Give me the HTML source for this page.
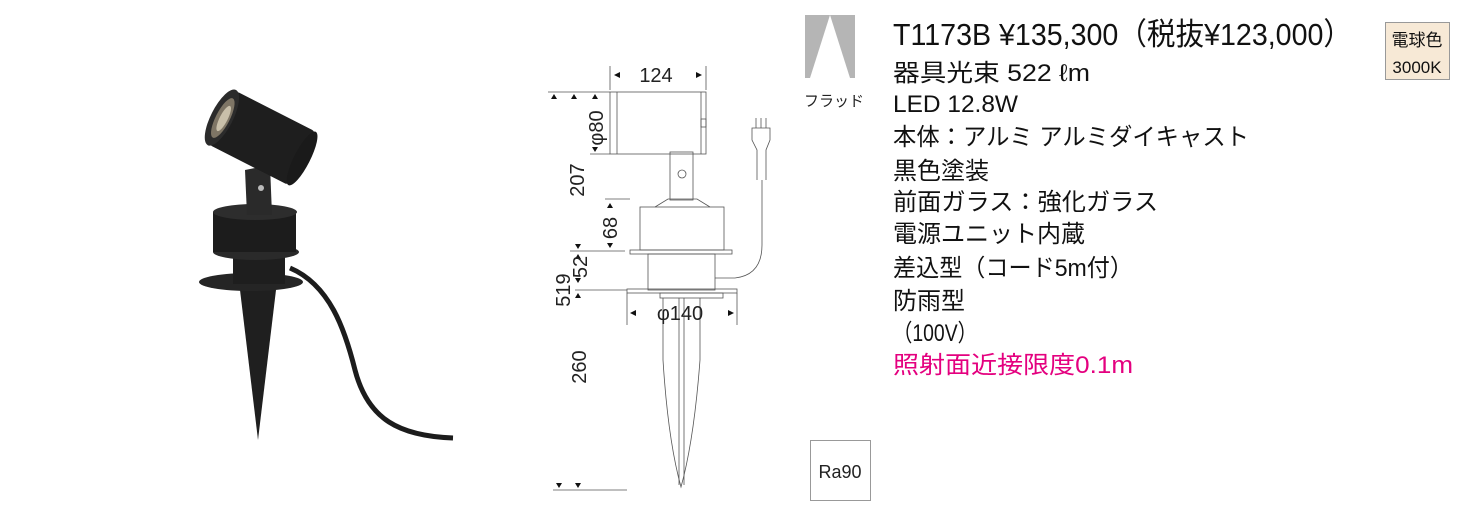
<!DOCTYPE html>
<html><head><meta charset="utf-8"><style>
html,body{margin:0;padding:0;background:#fff;width:1471px;height:528px;overflow:hidden}
svg{display:block}
text{font-family:"Liberation Sans","Noto Sans CJK JP",sans-serif}
</style></head><body>
<svg width="1471" height="528" viewBox="0 0 1471 528" xmlns="http://www.w3.org/2000/svg">
<!-- Photo -->
<g>
  <path d="M290 268 C330 285 345 330 355 370 C368 420 400 436 453 438" fill="none" stroke="#1c1c1c" stroke-width="5"/>
  <path d="M240 290 L276 290 L258 440 Z" fill="#1f1f1f"/>
  <ellipse cx="251" cy="282" rx="52" ry="9" fill="#252525"/>
  <rect x="233" y="252" width="52" height="32" fill="#1e1e1e"/>
  <ellipse cx="256" cy="252" rx="43" ry="8" fill="#2a2a2a"/>
  <rect x="213" y="212" width="83" height="40" fill="#1c1c1c"/>
  <ellipse cx="255" cy="212" rx="42" ry="8" fill="#2d2d2d"/>
  <path d="M245 170 L270 165 L272 215 L247 215 Z" fill="#2a2a2a"/>
  <circle cx="261" cy="188" r="3" fill="#bbb"/>
  <g transform="translate(262 138) rotate(27)">
    <rect x="-45" y="-30" width="90" height="60" rx="4" fill="#1e1e1e"/>
    <ellipse cx="45" cy="0" rx="8" ry="30" fill="#1a1a1a"/>
    <ellipse cx="-45" cy="0" rx="11" ry="31" fill="#2b2b2b"/>
    <ellipse cx="-44" cy="0" rx="7" ry="22" fill="#7e7565"/>
    <ellipse cx="-43" cy="0" rx="4" ry="14" fill="#c9c0aa"/>
  </g>
</g>
<!-- Technical drawing -->
<g stroke="#555" stroke-width="0.8" fill="none">
  <line x1="610" y1="66" x2="610" y2="90"/><line x1="706" y1="66" x2="706" y2="90"/>
  <rect x="610" y="92" width="96" height="62"/>
  <line x1="617" y1="92" x2="617" y2="154"/><line x1="701" y1="92" x2="701" y2="154"/>
  <rect x="701" y="119" width="5" height="8"/>
  <line x1="548" y1="92" x2="610" y2="92"/>
  <line x1="590" y1="154" x2="610" y2="154"/>
  <rect x="670" y="152" width="23" height="48"/>
  <circle cx="682" cy="174" r="4"/>
  <path d="M655 207 L668 199 L697 199 L710 207"/>
  <rect x="640" y="207" width="84" height="43"/>
  <rect x="630" y="250" width="102" height="4"/>
  <line x1="605" y1="199" x2="630" y2="199"/>
  <line x1="570" y1="251" x2="625" y2="251"/>
  <rect x="648" y="254" width="67" height="36"/>
  <rect x="627" y="289" width="110" height="4"/>
  <rect x="660" y="293" width="63" height="5"/>
  <line x1="575" y1="290" x2="627" y2="290"/>
  <line x1="627" y1="293" x2="627" y2="325"/><line x1="737" y1="293" x2="737" y2="325"/>
  <path d="M663 298 L663 360 Q668 440 681 487 Q694 440 700 360 L700 298"/>
  <line x1="679" y1="298" x2="679" y2="485"/><line x1="684" y1="298" x2="684" y2="485"/>
  <line x1="553" y1="490" x2="627" y2="490"/>
  <path d="M715 278 L735 278 Q762 275 762 245 L762 180"/>
  <path d="M757 180 L757 150 L752 140 L752 128 L770 128 L770 140 L766 150 L766 180"/>
  <line x1="756" y1="128" x2="756" y2="118"/><line x1="761" y1="128" x2="761" y2="118"/><line x1="766" y1="128" x2="766" y2="118"/>
</g>
<g fill="#111">
  <path d="M614 75 l6 -3 v6z"/><path d="M702 75 l-6 -3 v6z"/>
  <path d="M554 94 l-3 5 h6z"/><path d="M574 94 l-3 5 h6z"/><path d="M595 94 l-3 5 h6z"/>
  <path d="M595 152 l-3 -5 h6z"/>
  <path d="M610 203 l-3 5 h6z"/><path d="M610 248 l-3 -5 h6z"/>
  <path d="M578 249 l-3 -5 h6z"/><path d="M578 254 l-3 5 h6z"/>
  <path d="M578 283 l-3 -5 h6z"/><path d="M578 293 l-3 5 h6z"/>
  <path d="M630 313 l6 -3 v6z"/><path d="M734 313 l-6 -3 v6z"/>
  <path d="M559 488 l-3 -5 h6z"/><path d="M578 488 l-3 -5 h6z"/>
</g>
<g fill="#222" font-size="20">
  <text x="656" y="82" text-anchor="middle">124</text>
  <text transform="translate(603 128) rotate(-90)" text-anchor="middle">φ80</text>
  <text transform="translate(584 180) rotate(-90)" text-anchor="middle">207</text>
  <text transform="translate(617 228) rotate(-90)" text-anchor="middle">68</text>
  <text transform="translate(587 267) rotate(-90)" text-anchor="middle">52</text>
  <text transform="translate(570 290) rotate(-90)" text-anchor="middle">519</text>
  <text transform="translate(586 367) rotate(-90)" text-anchor="middle">260</text>
  <text x="680" y="320" text-anchor="middle">φ140</text>
</g>
<!-- Ra90 -->
<rect x="810.5" y="440.5" width="60" height="60" fill="#fff" stroke="#999"/>
<text x="840" y="478" font-size="18" text-anchor="middle" fill="#222">Ra90</text>
<!-- flood icon -->
<rect x="805" y="15" width="50" height="63" fill="#b5b5b5"/>
<path d="M830 15 L810 78 L850 78 Z" fill="#fff"/>
<text x="804" y="106" font-size="15" fill="#222">フラッド</text>
<!-- badge -->
<rect x="1385.5" y="22.5" width="64" height="57" fill="#f7e9d6" stroke="#999"/>
<text x="1417" y="46" font-size="17" text-anchor="middle" fill="#111">電球色</text>
<text x="1417" y="73" font-size="17" text-anchor="middle" fill="#111">3000K</text>
<!-- spec text -->
<g fill="#111" font-size="24">
  <text x="893" y="45" font-size="31" textLength="459" lengthAdjust="spacingAndGlyphs">T1173B  ¥135,300（税抜¥123,000）</text>
  <text x="893" y="81" textLength="197" lengthAdjust="spacingAndGlyphs">器具光束 522 ℓm</text>
  <text x="893" y="112" textLength="125" lengthAdjust="spacingAndGlyphs">LED 12.8W</text>
  <text x="893" y="145" textLength="356" lengthAdjust="spacingAndGlyphs">本体：アルミ アルミダイキャスト</text>
  <text x="893" y="179">黒色塗装</text>
  <text x="893" y="210" textLength="265" lengthAdjust="spacingAndGlyphs">前面ガラス：強化ガラス</text>
  <text x="893" y="242">電源ユニット内蔵</text>
  <text x="893" y="276" textLength="240" lengthAdjust="spacingAndGlyphs">差込型（コード5m付）</text>
  <text x="893" y="309">防雨型</text>
  <text x="893" y="341" textLength="84" lengthAdjust="spacingAndGlyphs">（100V）</text>
  <text x="893" y="373" fill="#e4007f" textLength="240" lengthAdjust="spacingAndGlyphs">照射面近接限度0.1m</text>
</g>
</svg>
</body></html>
